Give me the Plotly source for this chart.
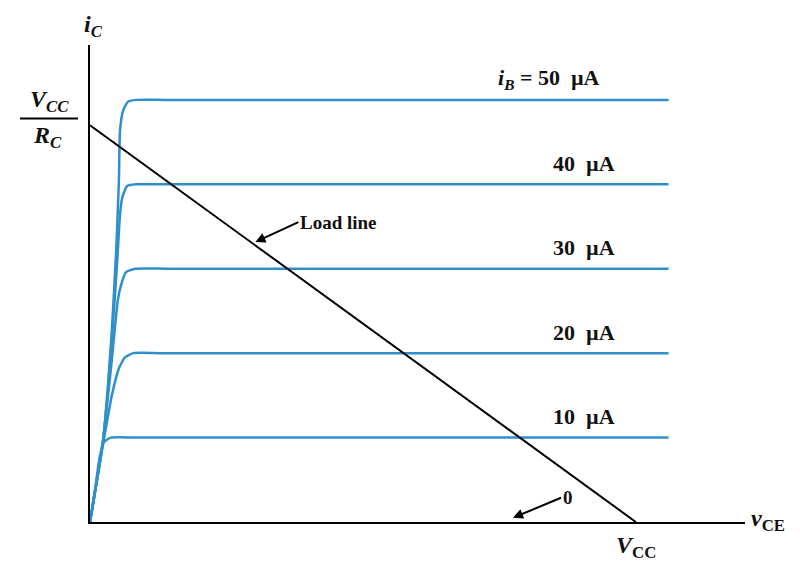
import plotly.graph_objects as go

# --- data (vCE in V with VCC = 10, iC in mA) ---
ib_labels = ["10 µA", "20 µA", "30 µA", "40 µA", "50 µA"]
ib_levels = [1.0, 2.0, 3.0, 4.0, 5.0]          # iC plateau for each iB
v_end = 10.6                                     # right end of curves

# knee shape of each curve
knee_v = [
    [0, 0.10, 0.18, 0.26, 0.38, 0.9],
    [0, 0.22, 0.40, 0.53, 0.64, 0.79, 1.3],
    [0, 0.24, 0.40, 0.51, 0.57, 0.66, 0.83, 1.4],
    [0, 0.24, 0.40, 0.50, 0.55, 0.59, 0.68, 0.84, 1.4],
    [0, 0.24, 0.40, 0.48, 0.53, 0.55, 0.61, 0.70, 0.86, 1.4],
]
knee_i = [
    [0, 0.42, 0.78, 0.95, 1.0, 1.0],
    [0, 0.85, 1.50, 1.82, 1.95, 2.0, 2.0],
    [0, 0.97, 1.92, 2.63, 2.81, 2.96, 3.0, 3.0],
    [0, 0.97, 2.15, 3.10, 3.64, 3.84, 3.98, 4.0, 4.0],
    [0, 0.97, 2.27, 3.22, 4.05, 4.64, 4.88, 4.98, 5.0, 5.0],
]

vcc = 10.0
vcc_over_rc = 4.70

x_max = 12.0
y_max = 5.65

curve_color = "#2f8fca"
serif = "Liberation Serif"
txt = "#111111"

fig = go.Figure()

for lv, kv, ki in zip(ib_levels, knee_v, knee_i):
    xs = list(kv) + [v_end]
    ys = list(ki) + [lv]
    fig.add_trace(go.Scatter(x=xs, y=ys, mode="lines",
                             line=dict(color=curve_color, width=2.5, shape="spline", smoothing=0.5),
                             hoverinfo="skip", showlegend=False))

# load line
fig.add_trace(go.Scatter(x=[0, vcc], y=[vcc_over_rc, 0], mode="lines",
                         line=dict(color="black", width=2), showlegend=False, hoverinfo="skip"))

annotations = []
# curve labels
for i, (lab, lv) in enumerate(zip(ib_labels, ib_levels)):
    text = lab.replace(" ", "&nbsp;&nbsp;")
    xc = 9.05
    if i == len(ib_labels) - 1:
        text = "<i>i</i><sub><i>B</i></sub>&nbsp;=&nbsp;" + text
        xc = 8.4
    annotations.append(dict(x=xc, y=lv, xref="x", yref="y", text="<b>" + text + "</b>",
                            showarrow=False, xanchor="center", yanchor="middle", yshift=21,
                            font=dict(family=serif, size=22, color=txt)))

# load line label
px_v = 3.03
annotations.append(dict(x=px_v, y=vcc_over_rc * (1 - px_v / vcc) + 0.04, xref="x", yref="y",
                        text="<b>Load line</b>", showarrow=True, arrowhead=2, arrowsize=1,
                        arrowwidth=2, arrowcolor="black", ax=43, ay=-20, xanchor="left",
                        font=dict(family=serif, size=19, color=txt)))
# zero label
annotations.append(dict(x=7.75, y=0.05, xref="x", yref="y", text="<b>0</b>", showarrow=True,
                        arrowhead=2, arrowwidth=2, arrowcolor="black", ax=48, ay=-20,
                        xanchor="left", font=dict(family=serif, size=19, color=txt)))
# axis labels
annotations.append(dict(x=0.0, y=y_max, xref="x", yref="y", text="<b><i>i</i><sub><i>C</i></sub></b>",
                        showarrow=False, xanchor="center", yanchor="bottom", xshift=3, yshift=2,
                        font=dict(family=serif, size=24, color=txt)))
annotations.append(dict(x=x_max, y=0, xref="x", yref="y", text="<b><i>v</i><sub>CE</sub></b>",
                        showarrow=False, xanchor="left", yanchor="middle", xshift=4, yshift=2,
                        font=dict(family=serif, size=24, color=txt)))
annotations.append(dict(x=vcc, y=0, xref="x", yref="y", text="<b><i>V</i><sub>CC</sub></b>",
                        showarrow=False, xanchor="center", yanchor="top", yshift=-8,
                        font=dict(family=serif, size=24, color=txt)))
# VCC / RC fraction
annotations.append(dict(x=0, y=vcc_over_rc, xref="x", yref="y", text="<b><i>V</i><sub><i>CC</i></sub></b>",
                        showarrow=False, xanchor="center", yanchor="bottom", xshift=-41, yshift=7,
                        font=dict(family=serif, size=24, color=txt)))
annotations.append(dict(x=0, y=vcc_over_rc, xref="x", yref="y", text="<b><i>R</i><sub><i>C</i></sub></b>",
                        showarrow=False, xanchor="center", yanchor="top", xshift=-43, yshift=5,
                        font=dict(family=serif, size=24, color=txt)))

plot_w = 655
fig.add_shape(type="line", xref="paper", yref="y", x0=-70 / plot_w, x1=-12 / plot_w,
              y0=vcc_over_rc + 0.08, y1=vcc_over_rc + 0.08, line=dict(color="black", width=2))

# page body has 8px margin; figure placed at (8, 8)
fig.update_layout(
    width=784, height=559,
    margin=dict(l=82, r=47, t=37, b=45),
    paper_bgcolor="white", plot_bgcolor="white",
    annotations=annotations,
    xaxis=dict(range=[0, x_max], showgrid=False, zeroline=False, showticklabels=False,
               ticks="", showline=True, linecolor="black", linewidth=2),
    yaxis=dict(range=[0, y_max], showgrid=False, zeroline=False, showticklabels=False,
               ticks="", showline=True, linecolor="black", linewidth=2),
)

fig.write_html("out.html")
